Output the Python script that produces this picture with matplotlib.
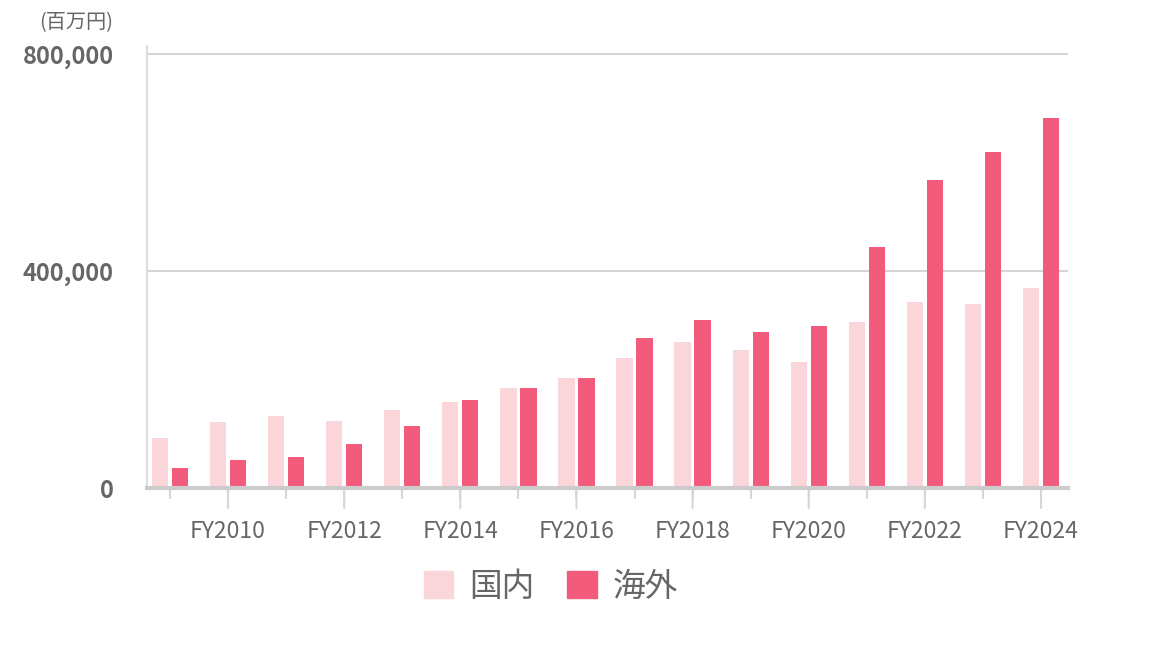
import matplotlib.pyplot as plt
import matplotlib.patches as mpatches
import numpy as np

plt.rcParams['font.family'] = ['Noto Sans CJK JP', 'DejaVu Sans']

# 年度 (FY2009 - FY2024)
years = list(range(2009, 2025))
tick_labels = ['FY%d' % y if y % 2 == 0 else '' for y in years]

# 売上 (百万円)
domestic = [92000, 121000, 132000, 124000, 143000, 158000, 184000, 203000,
            240000, 269000, 254000, 232000, 306000, 343000, 339000, 369000]
overseas = [36000, 51000, 58000, 81000, 114000, 162000, 184000, 203000,
            277000, 310000, 287000, 298000, 444000, 568000, 620000, 683000]

light = '#FAD5DA'
dark = '#F25B7C'
text_gray = '#666666'
line_gray = '#D6D6D6'

fig = plt.figure(figsize=(11.6, 6.52), dpi=100)
ax = fig.add_axes([147 / 1160, 164 / 652, 921 / 1160, 442 / 652])

x = np.arange(len(years))
w = 0.28
ax.bar(x - 0.172, domestic, width=w, color=light, zorder=3)
ax.bar(x + 0.172, overseas, width=w, color=dark, zorder=3)

ax.set_xlim(-0.396, 15.465)
ax.set_ylim(0, 815000)

ax.set_yticks([0, 400000, 800000])
ax.set_yticklabels(['0', '400,000', '800,000'])
ax.yaxis.grid(True, color=line_gray, linewidth=1.5, zorder=0)
ax.tick_params(axis='y', length=0, pad=24, labelsize=17, labelcolor=text_gray)
for lab in ax.get_yticklabels():
    lab.set_fontweight('bold')

# ticks at each category, longer ones for labelled years
ax.set_xticks(x)
ax.set_xticklabels([''] * len(years))
ax.tick_params(axis='x', which='major', length=8, color=line_gray, width=1.5)
for xi, lab in zip(x, tick_labels):
    if lab:
        ax.annotate('', xy=(xi, 0), xytext=(0, -20), textcoords='offset pixels',
                    xycoords='data', annotation_clip=False,
                    arrowprops=dict(arrowstyle='-', color=line_gray, lw=1.5,
                                    shrinkA=0, shrinkB=0))
        ax.annotate(lab, xy=(xi, 0), xytext=(0, -43), textcoords='offset pixels',
                    ha='center', va='center', fontsize=16.5, color=text_gray,
                    annotation_clip=False)

for side in ['top', 'right']:
    ax.spines[side].set_visible(False)
ax.spines['left'].set_color('#DDDDDD')
ax.spines['left'].set_linewidth(1.5)
ax.spines['bottom'].set_color('#CCCCCC')
ax.spines['bottom'].set_linewidth(3)
ax.spines['bottom'].set_zorder(4)

fig.text(113 / 1160, 1 - 23 / 652, '(百万円)', ha='right', va='center',
         fontsize=14.5, color=text_gray)

handles = [mpatches.Patch(color=light, label='国内'),
           mpatches.Patch(color=dark, label='海外')]
fig.legend(handles=handles, loc='center', bbox_to_anchor=(551 / 1160, 1 - 587 / 652),
           ncol=2, frameon=False, fontsize=23.5, handlelength=0.9, handleheight=0.9,
           handletextpad=0.5, columnspacing=1.0, labelcolor=text_gray)

fig.savefig('out.png', dpi=100)
